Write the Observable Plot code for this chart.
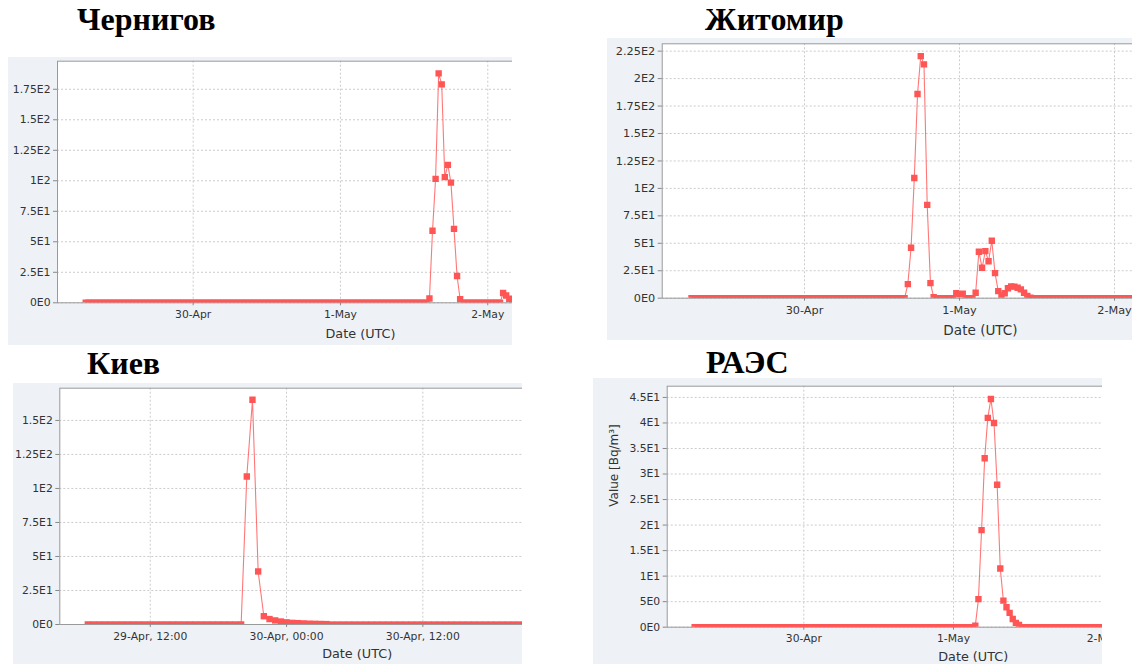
<!DOCTYPE html>
<html><head><meta charset="utf-8">
<script src="https://cdn.jsdelivr.net/npm/d3@7"></script>
<script src="https://cdn.jsdelivr.net/npm/@observablehq/plot@0.6"></script>
<style>
html,body{margin:0;padding:0;background:#fff}
body{width:1132px;height:664px;position:relative;overflow:hidden;font-family:"DejaVu Sans",sans-serif}
.title{position:absolute;font-family:"Liberation Serif","Times New Roman",serif;font-weight:bold;font-size:32px;line-height:32px;white-space:nowrap;color:#000}
.panel{position:absolute;background:#eef2f7;overflow:hidden}
.panel svg{position:absolute;left:0;top:0;max-width:none;overflow:visible}
</style></head><body>
<script>
// ---- data (half-hourly readings, Bq/m³) ----
const dayTicks = ["1986-04-30", "1986-05-01", "1986-05-02"];
const kievTicks = ["1986-04-29T12:00Z", "1986-04-30T00:00Z", "1986-04-30T12:00Z"];

const chernigovYTicks = [0, 25, 50, 75, 100, 125, 150, 175];
const zhitomirYTicks = [0, 25, 50, 75, 100, 125, 150, 175, 200, 225];
const kievYTicks = [0, 25, 50, 75, 100, 125, 150];
const raesYTicks = [0, 5, 10, 15, 20, 25, 30, 35, 40, 45];

// first / last sample of each record (value 0 between the bursts)
const chernigovRange = ["1986-04-29T06:30Z", "1986-05-03T00:00Z"];
const zhitomirRange = ["1986-04-29T06:30Z", "1986-05-03T00:00Z"];
const kievRange = ["1986-04-29T06:30Z", "1986-05-01T06:00Z"];
const raesRange = ["1986-04-29T06:30Z", "1986-05-03T00:00Z"];

// bursts: start of first half-hour sample, then consecutive half-hour values
const chernigovBurst1Start = "1986-05-01T14:30Z";
const chernigovBurst1 = [3.5, 59, 101.6, 188, 179, 103, 113, 98.5, 60.6, 22, 2.9];
const chernigovBurst2Start = "1986-05-02T02:30Z";
const chernigovBurst2 = [8, 6, 3.3, 2, 1];

const zhitomirBurst1Start = "1986-04-30T16:00Z";
const zhitomirBurst1 = [12.8, 45.9, 109.5, 186, 220.5, 213, 85, 13.7, 1];
const zhitomirBurst2Start = "1986-04-30T23:30Z";
const zhitomirBurst2 = [4.5, 3.5, 4, 0, 0, 0, 4.9, 42.3, 27.7, 42.9, 33.7, 52.3, 22.8, 6.4, 2.5, 4.5, 9, 10.8, 10.5, 9.5, 8, 5, 2, 0.5];

const kievBurst1Start = "1986-04-29T20:30Z";
const kievBurst1 = [108.8, 165.2, 39, 6.1, 4, 3, 2.2, 1.6, 1.2, 1.0, 0.8, 0.6, 0.5, 0.4, 0.3];

const raesBurst1Start = "1986-05-01T03:30Z";
const raesBurst1 = [0.3, 5.5, 19, 33.1, 41, 44.7, 40, 27.9, 11.5, 5.2, 3.9, 2.8, 1.6, 0.85, 0.45];

const HALF_HOUR = 30 * 60 * 1000;
function buildSeries(range, bursts) {
  const readings = new Map();
  for (const [start, values] of bursts) {
    const t0 = +new Date(start);
    values.forEach((v, i) => readings.set(t0 + i * HALF_HOUR, v));
  }
  const out = [];
  for (let t = +new Date(range[0]); t <= +new Date(range[1]); t += HALF_HOUR) {
    out.push({t: new Date(t), v: readings.has(t) ? readings.get(t) : 0});
  }
  return out;
}

const chernigovData = buildSeries(chernigovRange, [[chernigovBurst1Start, chernigovBurst1], [chernigovBurst2Start, chernigovBurst2]]);
const zhitomirData = buildSeries(zhitomirRange, [[zhitomirBurst1Start, zhitomirBurst1], [zhitomirBurst2Start, zhitomirBurst2]]);
const kievData = buildSeries(kievRange, [[kievBurst1Start, kievBurst1]]);
const raesData = buildSeries(raesRange, [[raesBurst1Start, raesBurst1]]);

function sci(v) {
  if (v === 0) return "0E0";
  const e = Math.floor(Math.log10(Math.abs(v)) + 1e-9);
  const m = +(v / Math.pow(10, e)).toFixed(3);
  return m + "E" + e;
}

// ---- layout ----
const panels = [
  {title: "Чернигов", titleX: 77, titleBase: 29.5, bg: [8, 57, 504, 288], frame: [57, 60.7, 663, 302.3],
   xDomain: ["1986-04-29T01:54Z", "1986-05-03T04:38Z"], yMax: 198, yTicks: chernigovYTicks, xTicks: dayTicks, xFormat: "%-d-%b",
   data: chernigovData, font: 10.8, labelFont: 12.8, labelDy: 30.7},
  {title: "Житомир", titleX: 705, titleBase: 29.3, bg: [607, 38, 525, 302], frame: [661.7, 43.3, 1298.3, 297.7],
   xDomain: ["1986-04-29T01:58Z", "1986-05-03T04:32Z"], yMax: 231.7, yTicks: zhitomirYTicks, xTicks: dayTicks, xFormat: "%-d-%b",
   data: zhitomirData, font: 11.3, labelFont: 13.6, labelDy: 32.3},
  {title: "Киев", titleX: 87, titleBase: 374, bg: [13, 383, 509, 281], frame: [59.3, 387.7, 654, 624],
   xDomain: ["1986-04-29T04:02Z", "1986-05-01T08:24Z"], yMax: 173.7, yTicks: kievYTicks, xTicks: kievTicks, xFormat: "%-d-%b, %H:%M",
   data: kievData, font: 10.8, labelFont: 12.8, labelDy: 29.3},
  {title: "РАЭС", titleX: 706, titleBase: 373, bg: [593, 378, 509, 286], frame: [666.7, 385.7, 1278.7, 626.7],
   xDomain: ["1986-04-29T02:06Z", "1986-05-03T04:13Z"], yMax: 47.2, yTicks: raesYTicks, xTicks: dayTicks, xFormat: "%-d-%b",
   data: raesData, font: 10.8, labelFont: 12.8, labelDy: 30, yLabel: "Value [Bq/m³]", yLabelDx: -53.4}
];

for (const p of panels) {
  const t = document.createElement("div");
  t.className = "title";
  t.textContent = p.title;
  t.style.left = p.titleX + "px";
  t.style.top = (p.titleBase - 26.8) + "px";
  document.body.appendChild(t);

  const [bx, by, bw, bh] = p.bg;
  const [fl, ft, fr, fb] = p.frame;
  const box = document.createElement("div");
  box.className = "panel";
  Object.assign(box.style, {left: bx + "px", top: by + "px", width: bw + "px", height: bh + "px"});
  document.body.appendChild(box);

  const marks = [
    Plot.frame({fill: "white", stroke: "none"}),
    Plot.gridX(p.xTicks.map(d => new Date(d)), {stroke: "#cccccc", strokeOpacity: 1, strokeDasharray: "2,2"}),
    Plot.gridY(p.yTicks, {stroke: "#cccccc", strokeOpacity: 1, strokeDasharray: "2,2"}),
    Plot.frame({stroke: "#9a9a9a", strokeWidth: 1}),
    Plot.axisY(p.yTicks, {tickFormat: sci, tickSize: 4, tickPadding: 3, label: null, fontSize: p.font, stroke: "#888", fill: "#333"}),
    Plot.axisX(p.xTicks.map(d => new Date(d)), {tickFormat: d3.utcFormat(p.xFormat), tickSize: 3, tickPadding: 4.5, label: null, fontSize: p.font, stroke: "#888", fill: "#333"}),
    Plot.text(["Date (UTC)"], {frameAnchor: "bottom", dy: p.labelDy, lineAnchor: "middle", fontSize: p.labelFont, fill: "#333"}),
    Plot.line(p.data, {x: "t", y: "v", stroke: "#ff5555", strokeOpacity: 0.8, strokeWidth: 1.1, clip: true}),
    Plot.dot(p.data, {x: "t", y: "v", symbol: "square", r: 3.6, fill: "#ff5555", stroke: "none", clip: true})
  ];
  if (p.yLabel) marks.push(Plot.text([p.yLabel], {frameAnchor: "left", dx: p.yLabelDx, rotate: -90, fontSize: 12, fill: "#333"}));

  const chart = Plot.plot({
    width: fr - bx + 20,
    height: bh,
    marginLeft: fl - bx,
    marginTop: ft - by,
    marginRight: 20,
    marginBottom: by + bh - fb,
    style: {background: "transparent", fontFamily: "DejaVu Sans, sans-serif", color: "#333", overflow: "visible"},
    x: {type: "utc", domain: p.xDomain.map(d => new Date(d))},
    y: {domain: [0, p.yMax]},
    marks
  });
  box.appendChild(chart);
}
</script>
</body></html>
